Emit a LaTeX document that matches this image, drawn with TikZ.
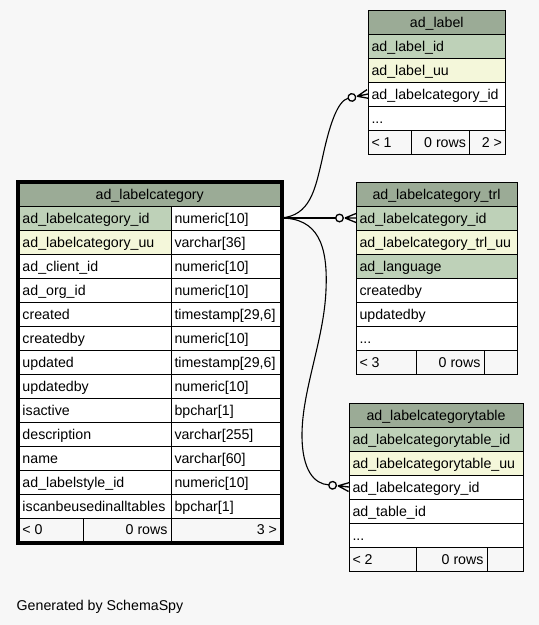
\documentclass[tikz,border=0pt]{standalone}
\usepackage{fontspec}
\setmainfont{Liberation Sans}
\definecolor{bg}{HTML}{F7F7F7}
\definecolor{hdr}{HTML}{9BAB96}
\definecolor{pk}{HTML}{BED1B8}
\definecolor{alt}{HTML}{F4F7DA}
\tikzset{
 cell/.style={draw=black, line width=1pt, anchor=north west, outer sep=0pt,
   inner xsep=3.5pt, inner ysep=0pt, minimum height=24pt,
   text height=11.5pt, text depth=1.5pt,
   font=\fontsize{14.2}{16}\selectfont, fill=white},
 hdrc/.style={fill=hdr},
 pkc/.style={fill=pk},
 altc/.style={fill=alt},
 footc/.style={fill=bg},
 conn/.style={draw=black, line width=1.1pt},
 crowline/.style={draw=black, line width=1.3pt},
}
\newcommand\tc[7]{%
 \pgfmathsetmacro\tcw{#5-7}%
 \node[cell,#1,minimum width=#5pt] (#2) at (#3,#4) {\makebox[\tcw pt][#6]{#7}};}
\newcommand\crowend[2]{%
 \begin{scope}[shift={(#1.west)}, rotate=#2]
  \coordinate (#1-c) at (-20.3,0);
  \draw[crowline] (-11,0) -- (0,-4.5) (-11,0) -- (0,0) (-11,0) -- (0,4.5);
  \draw[crowline, fill=bg] (-16.5,0) circle (3.8);
 \end{scope}}
\begin{document}
\begin{tikzpicture}[x=1pt,y=-1pt]
\useasboundingbox (0,0) rectangle (539,625);
\fill[bg] (0,0) rectangle (539,625);

% ad_labelcategory
\tc{hdrc,minimum height=23pt}{lc}{19}{183}{261.5}{c}{ad\_labelcategory}
\tc{pkc}{lcid}{19}{206}{152}{l}{ad\_labelcategory\_id}
\tc{}{lcidT}{171}{206}{109.5}{l}{numeric[10]}
\tc{altc}{lcuu}{19}{230}{152}{l}{ad\_labelcategory\_uu}
\tc{}{lcuuT}{171}{230}{109.5}{l}{varchar[36]}
\tc{}{lccl}{19}{254}{152}{l}{ad\_client\_id}
\tc{}{lcclT}{171}{254}{109.5}{l}{numeric[10]}
\tc{}{lcorg}{19}{278}{152}{l}{ad\_org\_id}
\tc{}{lcorgT}{171}{278}{109.5}{l}{numeric[10]}
\tc{}{lccr}{19}{302}{152}{l}{created}
\tc{}{lccrT}{171}{302}{109.5}{l}{timestamp[29,6]}
\tc{}{lccb}{19}{326}{152}{l}{createdby}
\tc{}{lccbT}{171}{326}{109.5}{l}{numeric[10]}
\tc{}{lcup}{19}{350}{152}{l}{updated}
\tc{}{lcupT}{171}{350}{109.5}{l}{timestamp[29,6]}
\tc{}{lcub}{19}{374}{152}{l}{updatedby}
\tc{}{lcubT}{171}{374}{109.5}{l}{numeric[10]}
\tc{}{lcia}{19}{398}{152}{l}{isactive}
\tc{}{lciaT}{171}{398}{109.5}{l}{bpchar[1]}
\tc{}{lcde}{19}{422}{152}{l}{description}
\tc{}{lcdeT}{171}{422}{109.5}{l}{varchar[255]}
\tc{}{lcna}{19}{446}{152}{l}{name}
\tc{}{lcnaT}{171}{446}{109.5}{l}{varchar[60]}
\tc{}{lcls}{19}{470}{152}{l}{ad\_labelstyle\_id}
\tc{}{lclsT}{171}{470}{109.5}{l}{numeric[10]}
\tc{}{lcic}{19}{494}{152}{l}{iscanbeusedinalltables}
\tc{}{lcicT}{171}{494}{109.5}{l}{bpchar[1]}
\tc{footc,minimum height=23.5pt}{lcf1}{19}{518}{64}{l}{< 0}
\tc{footc,minimum height=23.5pt}{lcf2}{83}{518}{88}{r}{0 rows}
\tc{footc,minimum height=23.5pt}{lcf3}{171}{518}{109.5}{r}{3 >}
\draw[line width=3pt] (17.5,181.5) rectangle (282,543);

% ad_label
\tc{hdrc}{lbl}{368}{10}{137.5}{c}{ad\_label}
\tc{pkc}{lblid}{368}{34}{137.5}{l}{ad\_label\_id}
\tc{altc}{lbluu}{368}{58}{137.5}{l}{ad\_label\_uu}
\tc{}{lblcat}{368}{82}{137.5}{l}{ad\_labelcategory\_id}
\tc{}{lbldots}{368}{106}{137.5}{l}{...}
\tc{footc}{lblf1}{368}{130}{43}{l}{< 1}
\tc{footc}{lblf2}{411}{130}{58.5}{r}{0 rows}
\tc{footc}{lblf3}{469.5}{130}{36}{r}{2 >}

% ad_labelcategory_trl
\tc{hdrc}{trl}{356}{182}{161}{c}{ad\_labelcategory\_trl}
\tc{pkc}{trlid}{356}{206}{161}{l}{ad\_labelcategory\_id}
\tc{altc}{trluu}{356}{230}{161}{l}{ad\_labelcategory\_trl\_uu}
\tc{pkc}{trllang}{356}{254}{161}{l}{ad\_language}
\tc{}{trlcb}{356}{278}{161}{l}{createdby}
\tc{}{trlub}{356}{302}{161}{l}{updatedby}
\tc{}{trldots}{356}{326}{161}{l}{...}
\tc{footc}{trlf1}{356}{350}{60}{l}{< 3}
\tc{footc}{trlf2}{416}{350}{68}{r}{0 rows}
\tc{footc}{trlf3}{484}{350}{33}{r}{}

% ad_labelcategorytable
\tc{hdrc}{lct}{349}{403}{174}{c}{ad\_labelcategorytable}
\tc{pkc}{lctid}{349}{427}{174}{l}{ad\_labelcategorytable\_id}
\tc{altc}{lctuu}{349}{451}{174}{l}{ad\_labelcategorytable\_uu}
\tc{}{lctcat}{349}{475}{174}{l}{ad\_labelcategory\_id}
\tc{}{lcttab}{349}{499}{174}{l}{ad\_table\_id}
\tc{}{lctdots}{349}{523}{174}{l}{...}
\tc{footc}{lctf1}{349}{547}{67}{l}{< 2}
\tc{footc}{lctf2}{416}{547}{71}{r}{0 rows}
\tc{footc}{lctf3}{487}{547}{36}{r}{}

% connector ends
\crowend{lblcat}{12}
\crowend{trlid}{0}
\crowend{lctcat}{-6}

% connectors
\draw[conn] (lcidT.east) .. controls (310,216) and (315,190) .. (322,160)
  .. controls (330,122) and (338,101) .. (lblcat-c);
\draw[conn] (lcidT.east) -- (trlid-c);
\draw[conn] (lcidT.east) .. controls (318,218) and (328,245) .. (326,290)
  .. controls (324,340) and (302,390) .. (302,435)
  .. controls (302,470) and (314,484) .. (lctcat-c);

\node[anchor=base west, inner sep=0pt, font=\fontsize{14.2}{16}\selectfont] (gen) at (16.5,610) {Generated by SchemaSpy};
\end{tikzpicture}
\end{document}
